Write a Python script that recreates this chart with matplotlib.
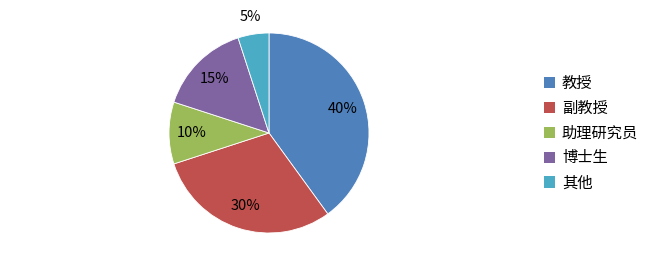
import matplotlib
matplotlib.use("Agg")
import matplotlib.pyplot as plt
import numpy as np

plt.rcParams['font.family'] = ['Noto Sans CJK SC', 'DejaVu Sans']

categories = ['教授', '副教授', '助理研究员', '博士生', '其他']
values = [40, 30, 10, 15, 5]
colors = ['#4F81BD', '#C0504D', '#9BBB59', '#8064A2', '#4BACC6']

fig = plt.figure(figsize=(6.6, 2.67), dpi=100)
W, H = 660, 267
cx, cy, r = 269, 133, 100
ax = fig.add_axes([(cx - r) / W, (H - cy - r) / H, 2 * r / W, 2 * r / H])

wedges, texts, autotexts = ax.pie(
    values, colors=colors, startangle=90, counterclock=False,
    autopct='%d%%', pctdistance=0.77, radius=1,
    wedgeprops=dict(edgecolor='white', linewidth=0.6),
    textprops=dict(fontsize=10.5, color='black'))
ax.set_xlim(-1, 1)
ax.set_ylim(-1, 1)
ax.set_aspect('equal')

# small slice label placed outside
for w, t, v in zip(wedges, autotexts, values):
    if v < 8:
        ang = np.deg2rad((w.theta1 + w.theta2) / 2)
        t.set_position((1.17 * np.cos(ang), 1.17 * np.sin(ang)))

leg = fig.legend(wedges, categories, loc='upper left',
                 bbox_to_anchor=(536 / W, (H - 67) / H),
                 frameon=False, fontsize=11, handlelength=0.75,
                 handleheight=0.75, handletextpad=0.45, labelspacing=0.52,
                 borderpad=0)
for h in leg.legend_handles:
    h.set_edgecolor('none')

fig.savefig('out.png', dpi=100)
